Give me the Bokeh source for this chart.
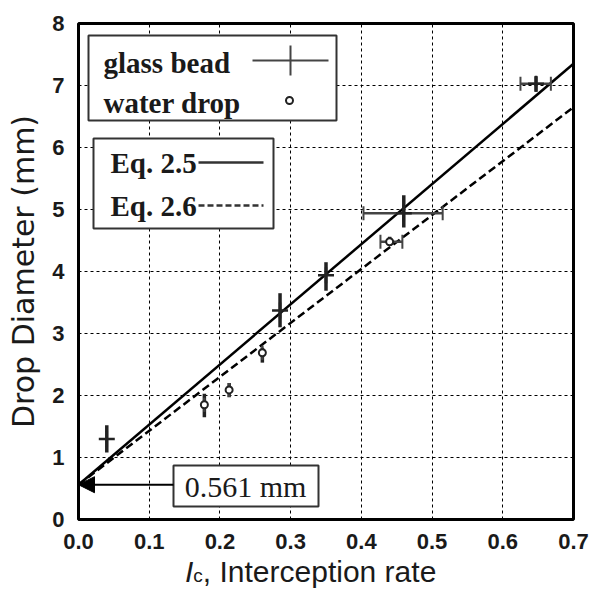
from bokeh.plotting import figure
from bokeh.layouts import column
from bokeh.models import (Label, Arrow, NormalHead, FixedTicker, ColumnDataSource, Div)
from bokeh.embed import file_html
from bokeh.resources import INLINE

# ---- data ----------------------------------------------------------------
# Glass bead measurements (interception rate, drop diameter in mm)
glass_x = [0.040, 0.285, 0.350, 0.460, 0.647]
glass_y = [1.30, 3.37, 3.94, 4.94, 7.03]
glass_y_lo = [1.08, 3.10, 3.69, 4.71, 6.90]
glass_y_hi = [1.52, 3.65, 4.15, 5.23, 7.15]
glass_x_lo = [0.040, 0.285, 0.350, 0.403, 0.625]
glass_x_hi = [0.040, 0.285, 0.350, 0.515, 0.668]

# Water drop measurements
water_x = [0.178, 0.213, 0.260, 0.440]
water_y = [1.85, 2.09, 2.69, 4.48]
water_y_lo = [1.65, 1.97, 2.53, 4.41]
water_y_hi = [2.03, 2.20, 2.77, 4.56]
water_x_lo = [0.178, 0.213, 0.260, 0.427]
water_x_hi = [0.178, 0.213, 0.260, 0.458]

# Fitted relations: shared intercept 0.561 mm
fit_x = [0.0, 0.7]
eq25_y = [0.561, 7.35]
eq26_y = [0.561, 6.65]
intercept = 0.561

x_ticks = [0.0, 0.1, 0.2, 0.3, 0.4, 0.5, 0.6, 0.7]
y_ticks = [0, 1, 2, 3, 4, 5, 6, 7, 8]

# ---- layout --------------------------------------------------------------
W, H = 606, 555
L, R, T, B = 78, 33, 23, 36
X0, X1, Y0, Y1 = 0.0, 0.7, 0.0, 8.0
fw, fh = W - L - R, H - T - B


def px(xp):
    return X0 + (xp - L) / fw * (X1 - X0)


def py(yp):
    return Y1 - (yp - T) / fh * (Y1 - Y0)


p = figure(width=W, height=H, x_range=(X0, X1), y_range=(Y0, Y1),
           output_backend="svg", toolbar_location=None,
           min_border_left=L, min_border_right=R,
           min_border_top=T, min_border_bottom=B)
p.margin = (0, 0, 0, 0)
p.background_fill_color = "white"
p.border_fill_color = "white"
p.outline_line_color = "black"
p.outline_line_width = 3

for g in (p.xgrid, p.ygrid):
    g.grid_line_color = "black"
    g.grid_line_dash = "3 3"
    g.grid_line_width = 1
p.xgrid.ticker = FixedTicker(ticks=x_ticks)
p.ygrid.ticker = FixedTicker(ticks=y_ticks)

p.xaxis.ticker = FixedTicker(ticks=x_ticks)
p.yaxis.ticker = FixedTicker(ticks=y_ticks)
p.xaxis.major_label_overrides = {t: f"{t:.1f}" for t in x_ticks}
for ax in (p.xaxis, p.yaxis):
    ax.axis_line_color = None
    ax.major_tick_line_color = None
    ax.minor_tick_line_color = None
    ax.major_label_text_font = "Liberation Sans"
    ax.major_label_text_font_style = "bold"
    ax.major_label_text_font_size = "22px"
    ax.major_label_text_color = "#1a1a1a"
p.xaxis.major_label_standoff = 8
p.yaxis.major_label_standoff = 8

p.yaxis.axis_label = "Drop Diameter (mm)"
p.yaxis.axis_label_text_font = "DejaVu Sans"
p.yaxis.axis_label_text_font_style = "normal"
p.yaxis.axis_label_text_font_size = "30px"
p.yaxis.axis_label_text_color = "#1a1a1a"
p.yaxis.axis_label_standoff = 8

# ---- fitted lines ---------------------------------------------------------
p.line(fit_x, eq25_y, line_color="black", line_width=2.5)
p.line(fit_x, eq26_y, line_color="black", line_width=2.5, line_dash="8 4")

# ---- error bars and markers ----------------------------------------------
gs = ColumnDataSource(dict(x=glass_x, y=glass_y, ylo=glass_y_lo, yhi=glass_y_hi,
                           xlo=glass_x_lo, xhi=glass_x_hi))
ws = ColumnDataSource(dict(x=water_x, y=water_y, ylo=water_y_lo, yhi=water_y_hi,
                           xlo=water_x_lo, xhi=water_x_hi))
for src in (gs, ws):
    p.segment("x", "ylo", "x", "yhi", source=src, line_color="#222222", line_width=3.5)
    p.segment("xlo", "y", "xhi", "y", source=src, line_color="#444444", line_width=2.5)
    p.rect("xlo", "y", width=2, height=14, width_units="screen", height_units="screen",
           source=src, fill_color="#444444", line_color=None)
    p.rect("xhi", "y", width=2, height=14, width_units="screen", height_units="screen",
           source=src, fill_color="#444444", line_color=None)
p.scatter("x", "y", source=gs, marker="cross", size=16, line_color="#222222", line_width=2.5)
p.scatter("x", "y", source=ws, marker="circle", size=7, fill_color="white",
          line_color="#222222", line_width=2)

# ---- legend boxes ---------------------------------------------------------
p.quad(left=[px(88), px(93)], right=[px(336), px(273)],
       top=[py(35), py(138)], bottom=[py(120), py(228)],
       fill_color="white", line_color="#333333", line_width=2)
# symbols
p.segment([px(252)], [py(60)], [px(328)], [py(60)], line_color="#444444", line_width=2)
p.segment([px(290)], [py(45)], [px(290)], [py(75)], line_color="#444444", line_width=2)
p.scatter([px(289)], [py(100)], marker="circle", size=7, fill_color="white",
          line_color="#222222", line_width=2)
p.segment([px(198)], [py(162)], [px(263)], [py(162)], line_color="#333333", line_width=2.5)
p.segment([px(198)], [py(205)], [px(263)], [py(205)], line_color="#333333", line_width=2.5,
          line_dash="6 3")

# intercept call-out box
p.quad(left=[px(173)], right=[px(318)], top=[py(465)], bottom=[py(506)],
       fill_color="white", line_color="#333333", line_width=2)

legend_texts = [("glass bead", 103, 62), ("water drop", 103, 102),
                ("Eq. 2.5", 110, 162), ("Eq. 2.6", 110, 205)]
for txt, xp, yp in legend_texts:
    p.add_layout(Label(x=px(xp), y=py(yp), text=txt, text_font="Liberation Serif",
                       text_font_style="bold", text_font_size="29px",
                       text_baseline="middle", text_color="#1a1a1a"))

p.add_layout(Label(x=px(245), y=py(486), text=f"{intercept:.3f} mm",
                   text_font="Liberation Serif", text_font_size="30px",
                   text_align="center", text_baseline="middle", text_color="#1a1a1a"))
p.add_layout(Arrow(end=NormalHead(size=16, fill_color="black", line_color="black"),
                   x_start=px(173), y_start=intercept, x_end=0.0, y_end=intercept,
                   line_color="black", line_width=2))

# ---- x-axis title: I_c, Interception rate --------------------------------
xtitle = Div(
    text=('<div style="padding-left:185px; font-family:\'Liberation Sans\'; '
          'font-size:30px; line-height:34px; color:#1a1a1a; white-space:nowrap;">'
          '<i>I</i><span style="font-size:19px;">c</span>, Interception rate</div>'),
    width=W, height=34, margin=(0, 0, 0, 0))

layout = column(p, xtitle, spacing=0)
open("out.html", "w").write(file_html(layout, INLINE))
